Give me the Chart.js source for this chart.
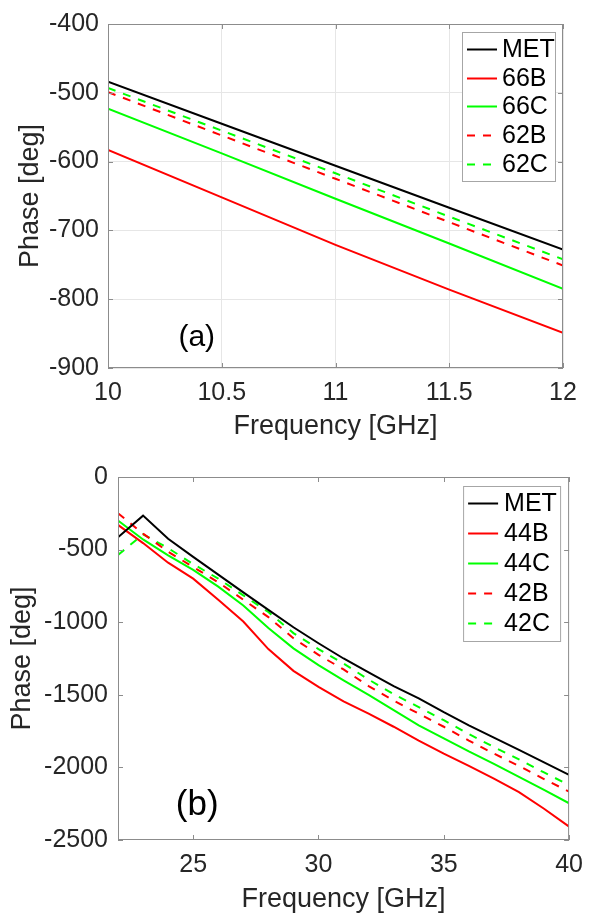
<!DOCTYPE html>
<html>
<head>
<meta charset="utf-8">
<script src="https://cdn.jsdelivr.net/npm/chart.js@4.4.2/dist/chart.umd.min.js"></script>
<style>
  html, body { margin: 0; padding: 0; background: #fff; }
  #wrap { position: relative; width: 593px; height: 916px; }
  .panel { position: absolute; left: 0; width: 593px; }
  #panelA { top: 0; height: 450px; }
  #panelB { top: 450px; height: 466px; }
</style>
</head>
<body>
<div id="wrap">
  <div class="panel" id="panelA"><canvas id="chartA"></canvas></div>
  <div class="panel" id="panelB"><canvas id="chartB"></canvas></div>
</div>
<script>
// panel (a): 10-12 GHz
const freqA = [10, 10.5, 11, 11.5, 12];
const metA = [-484, -545, -606, -667, -728];
const s66B = [-583, -652, -721, -786, -849];
const s66C = [-523, -588, -654, -719, -785];
const s62B = [-499, -562, -625, -688, -751];
const s62C = [-493, -555, -617, -680, -742];
const xTicksA = [10, 10.5, 11, 11.5, 12];
const yTicksA = [-900, -800, -700, -600, -500, -400];

// panel (b): 22-40 GHz
const freqB = [22, 23, 24, 25, 26, 27, 28, 29, 30, 31, 32, 33, 34, 35, 36, 37, 38, 39, 40];
const metB = [-415, -266, -425, -550, -672, -795, -915, -1035, -1145, -1250, -1345, -1440, -1525, -1620, -1710, -1795, -1880, -1965, -2052];
const s44B = [-330, -455, -590, -700, -845, -995, -1185, -1335, -1446, -1545, -1630, -1720, -1815, -1905, -1990, -2078, -2170, -2285, -2408];
const s44C = [-300, -430, -540, -640, -755, -885, -1040, -1180, -1295, -1400, -1500, -1605, -1710, -1800, -1890, -1975, -2065, -2155, -2247];
const s42B = [-250, -390, -515, -620, -725, -845, -965, -1110, -1225, -1325, -1440, -1540, -1630, -1720, -1815, -1905, -1990, -2080, -2167];
const s42C = [-537, -395, -490, -600, -700, -815, -930, -1075, -1185, -1285, -1395, -1495, -1585, -1675, -1770, -1860, -1945, -2035, -2121];
const xTicksB = [25, 30, 35, 40];
const yTicksB = [-2500, -2000, -1500, -1000, -500, 0];

const FONT = "'Liberation Sans', Arial, Helvetica, sans-serif";
const TXT = '#262626';
const AXIS = '#8c8c8c';
const DASH = [8, 8];

const pts = (xs, ys) => xs.map((x, i) => ({ x: x, y: ys[i] }));

function line(label, xs, ys, color, dashed) {
  return {
    label: label,
    data: pts(xs, ys),
    borderColor: color,
    backgroundColor: color,
    borderWidth: 2,
    borderDash: dashed ? DASH : [],
    pointRadius: 0,
    tension: 0,
    fill: false
  };
}

// box, inward ticks, legend box and panel tag, drawn the matlab way
const matlabFrame = {
  id: 'matlabFrame',
  afterDatasetsDraw(chart, args, opts) {
    const { ctx, chartArea: a, scales } = chart;
    ctx.save();
    ctx.strokeStyle = AXIS;
    ctx.lineWidth = 1;
    ctx.setLineDash([]);
    ctx.strokeRect(a.left + 0.5, a.top + 0.5, a.right - a.left - 1, a.bottom - a.top - 1);
    const t = 5;
    ctx.beginPath();
    scales.x.ticks.forEach(tk => {
      const x = Math.round(scales.x.getPixelForValue(tk.value)) + 0.5;
      ctx.moveTo(x, a.bottom); ctx.lineTo(x, a.bottom - t);
      ctx.moveTo(x, a.top); ctx.lineTo(x, a.top + t);
    });
    scales.y.ticks.forEach(tk => {
      const y = Math.round(scales.y.getPixelForValue(tk.value)) + 0.5;
      ctx.moveTo(a.left, y); ctx.lineTo(a.left + t, y);
      ctx.moveTo(a.right, y); ctx.lineTo(a.right - t, y);
    });
    ctx.stroke();

    const lg = opts.legend;
    const bx = a.right - lg.inset - lg.w;
    const by = a.top + lg.inset;
    ctx.fillStyle = '#fff';
    ctx.fillRect(bx, by, lg.w, lg.h);
    ctx.strokeStyle = '#a6a6a6';
    ctx.strokeRect(bx + 0.5, by + 0.5, lg.w, lg.h);
    ctx.font = `25px ${FONT}`;
    ctx.textAlign = 'left';
    ctx.textBaseline = 'middle';
    chart.data.datasets.forEach((ds, i) => {
      const y = Math.round(by + lg.first + i * lg.rowH) + 0.5;
      ctx.strokeStyle = ds.borderColor;
      ctx.lineWidth = 2;
      ctx.setLineDash(ds.borderDash);
      ctx.beginPath();
      ctx.moveTo(bx + 5, y);
      ctx.lineTo(bx + 35, y);
      ctx.stroke();
      ctx.setLineDash([]);
      ctx.fillStyle = '#000';
      ctx.fillText(ds.label, bx + lg.textX, y + 1);
    });

    ctx.font = `${opts.tagSize}px ${FONT}`;
    ctx.fillStyle = '#000';
    ctx.textAlign = 'center';
    ctx.fillText(opts.tag, scales.x.getPixelForValue(opts.tagAt[0]), scales.y.getPixelForValue(opts.tagAt[1]));
    ctx.restore();
  }
};

function makeChart(id, cfg) {
  return new Chart(document.getElementById(id), {
    type: 'line',
    data: { datasets: cfg.datasets },
    plugins: [matlabFrame],
    options: {
      responsive: true,
      maintainAspectRatio: false,
      animation: false,
      events: [],
      layout: { padding: cfg.padding },
      plugins: {
        legend: { display: false },
        tooltip: { enabled: false },
        matlabFrame: cfg.frame
      },
      scales: {
        x: {
          type: 'linear',
          min: cfg.xMin,
          max: cfg.xMax,
          afterBuildTicks: s => { s.ticks = cfg.xTicks.map(v => ({ value: v })); },
          afterFit: s => { s.height = cfg.xHeight; },
          ticks: {
            callback: v => String(v),
            color: TXT,
            font: { family: FONT, size: 25 },
            padding: 10,
            maxRotation: 0,
            autoSkip: false
          },
          grid: { display: cfg.grid, color: '#e6e6e6', drawTicks: false },
          border: { display: false },
          title: {
            display: true,
            text: 'Frequency [GHz]',
            color: TXT,
            font: { family: FONT, size: 27 },
            padding: { top: 0, bottom: cfg.xTitlePad }
          }
        },
        y: {
          type: 'linear',
          min: cfg.yMin,
          max: cfg.yMax,
          afterBuildTicks: s => { s.ticks = cfg.yTicks.map(v => ({ value: v })); },
          afterFit: s => { s.width = cfg.yWidth; },
          ticks: {
            callback: v => String(v),
            color: TXT,
            font: { family: FONT, size: 25 },
            padding: cfg.yTickPad,
            autoSkip: false
          },
          grid: { display: cfg.grid, color: '#e6e6e6', drawTicks: false },
          border: { display: false },
          title: {
            display: true,
            text: 'Phase [deg]',
            color: TXT,
            font: { family: FONT, size: 27 },
            padding: { top: cfg.yTitlePad, bottom: 0 }
          }
        }
      }
    }
  });
}

makeChart('chartA', {
  datasets: [
    line('MET', freqA, metA, '#000000', false),
    line('66B', freqA, s66B, '#ff0000', false),
    line('66C', freqA, s66C, '#00ff00', false),
    line('62B', freqA, s62B, '#ff0000', true),
    line('62C', freqA, s62C, '#00ff00', true)
  ],
  padding: { top: 16, right: 30, bottom: 0, left: 0 },
  xMin: 10, xMax: 12, xTicks: xTicksA, xHeight: 82, xTitlePad: 7,
  yMin: -900, yMax: -400, yTicks: yTicksA, yWidth: 108, yTickPad: 9, yTitlePad: 14,
  grid: true,
  frame: {
    legend: { w: 93, h: 149, inset: 8, first: 17, rowH: 28.7, textX: 40 },
    tag: '(a)', tagSize: 30, tagAt: [10.39, -856]
  }
});

makeChart('chartB', {
  datasets: [
    line('MET', freqB, metB, '#000000', false),
    line('44B', freqB, s44B, '#ff0000', false),
    line('44C', freqB, s44C, '#00ff00', false),
    line('42B', freqB, s42B, '#ff0000', true),
    line('42C', freqB, s42C, '#00ff00', true)
  ],
  padding: { top: 27, right: 18, bottom: 0, left: 0 },
  xMin: 22, xMax: 40, xTicks: xTicksB, xHeight: 76, xTitlePad: 0,
  yMin: -2500, yMax: 0, yTicks: yTicksB, yWidth: 118, yTickPad: 10, yTitlePad: 6,
  grid: false,
  frame: {
    legend: { w: 97, h: 155, inset: 9, first: 17, rowH: 30, textX: 41 },
    tag: '(b)', tagSize: 35, tagAt: [25.16, -2259]
  }
});
</script>
</body>
</html>
